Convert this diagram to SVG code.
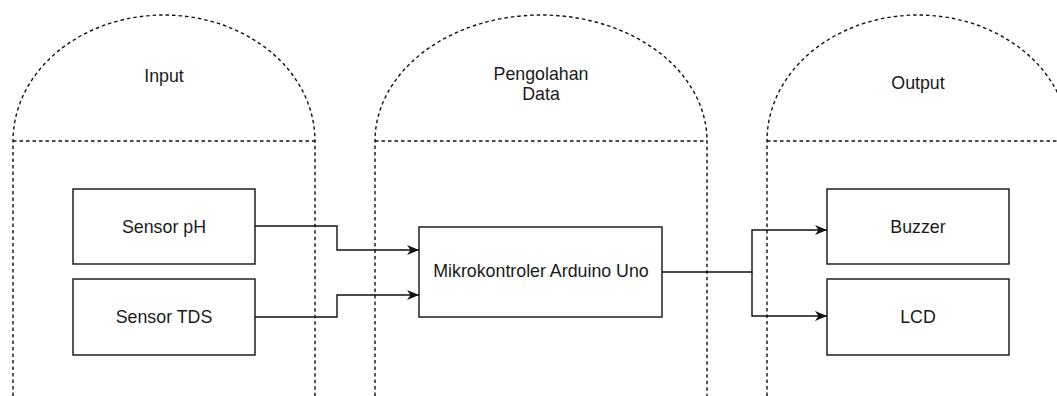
<svg xmlns="http://www.w3.org/2000/svg" width="1057" height="396" viewBox="0 0 1057 396">
<style>
.col{fill:none;stroke:#111;stroke-width:1.4;stroke-dasharray:3.5 3}
.box{fill:#fff;stroke:#111;stroke-width:1.4}
.lbl{font-family:"Liberation Sans",Arial,sans-serif;font-size:17.8px;fill:#1a1a1a;text-anchor:middle}
.edge{fill:none;stroke:#111;stroke-width:1.4}
</style>
<defs>
<marker id="arr" markerWidth="12" markerHeight="10" refX="12" refY="5" orient="auto" markerUnits="userSpaceOnUse">
<path d="M0,0 L12,5 L0,10 L3.5,5 z" fill="#111"/>
</marker>
</defs>
<rect width="1057" height="396" fill="#fff"/>
<g id="col-input">
<path class="col" d="M13,396 L13,141 A151,126 0 0 1 315,141 L315,396"/>
<path class="col" d="M13,141 H315"/>
<text class="lbl" x="164" y="82">Input</text>
</g>
<g id="col-pengolahan">
<path class="col" d="M375,396 L375,141 A166,126 0 0 1 707,141 L707,396"/>
<path class="col" d="M375,141 H707"/>
<text class="lbl" x="541" y="80">Pengolahan</text>
<text class="lbl" x="541" y="100">Data</text>
</g>
<g id="col-output">
<path class="col" d="M767,396 L767,141 A151,126 0 0 1 1069,141 L1069,396"/>
<path class="col" d="M767,141 H1069"/>
<text class="lbl" x="918" y="89">Output</text>
</g>
<g id="sensor-ph">
<rect class="box" x="73" y="189" width="182" height="75"/>
<text class="lbl" x="164" y="233">Sensor pH</text>
</g>
<g id="sensor-tds">
<rect class="box" x="73" y="279" width="182" height="76"/>
<text class="lbl" x="164" y="323">Sensor TDS</text>
</g>
<g id="mikrokontroler">
<rect class="box" x="419" y="227" width="243" height="90"/>
<text class="lbl" x="541" y="277">Mikrokontroler Arduino Uno</text>
</g>
<g id="buzzer">
<rect class="box" x="827" y="189" width="182" height="75"/>
<text class="lbl" x="918" y="233">Buzzer</text>
</g>
<g id="lcd">
<rect class="box" x="827" y="279" width="182" height="76"/>
<text class="lbl" x="918" y="323">LCD</text>
</g>
<g id="connectors">
<path class="edge" d="M255,226 H337 V250 H419" marker-end="url(#arr)"/>
<path class="edge" d="M255,317 H337 V295 H419" marker-end="url(#arr)"/>
<path class="edge" d="M662,272 H752 V230 H827" marker-end="url(#arr)"/>
<path class="edge" d="M752,272 V316 H827" marker-end="url(#arr)"/>
</g>
</svg>
